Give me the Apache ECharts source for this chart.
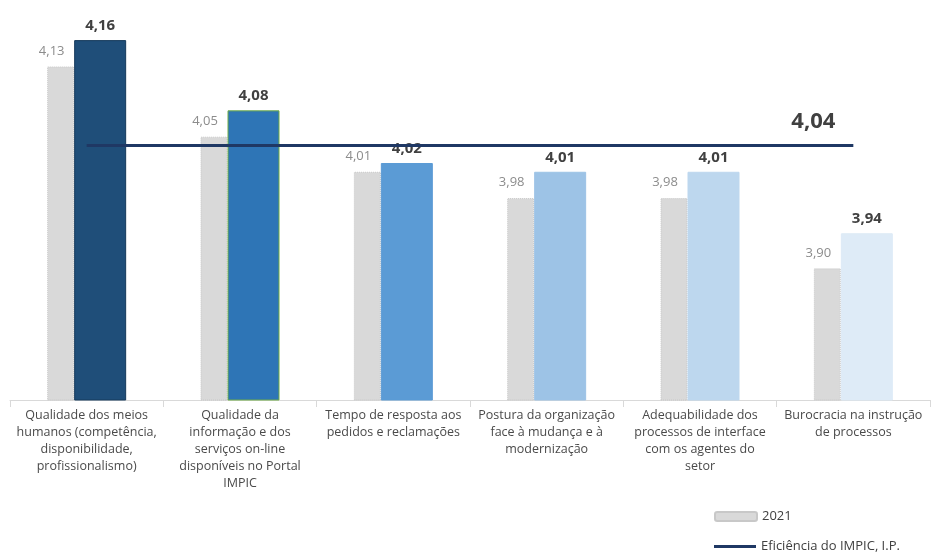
<!DOCTYPE html>
<html>
<head>
<meta charset="utf-8">
<script src="https://cdn.jsdelivr.net/npm/echarts@6/dist/echarts.min.js"></script>
<style>
  html, body { margin: 0; padding: 0; background: #fff; }
  #chart { width: 932px; height: 554px; }
</style>
</head>
<body>
<div id="chart"></div>
<script>
  // categorias (quebras de linha como no original)
  var categories = [
    'Qualidade dos meios\nhumanos (competência,\ndisponibilidade,\nprofissionalismo)',
    'Qualidade da\ninformação e dos\nserviços on-line\ndisponíveis no Portal\nIMPIC',
    'Tempo de resposta aos\npedidos e reclamações',
    'Postura da organização\nface à mudança e à\nmodernização',
    'Adequabilidade dos\nprocessos de interface\ncom os agentes do\nsetor',
    'Burocracia na instrução\nde processos'
  ];
  var values2021 = [4.13, 4.05, 4.01, 3.98, 3.98, 3.90];
  var valuesAtual = [4.16, 4.08, 4.02, 4.01, 4.01, 3.94];
  var eficiencia = [4.04, 4.04, 4.04, 4.04, 4.04, 4.04];

  var blueFill = ['#1f4e79', '#2e75b6', '#5b9bd5', '#9dc3e6', '#bdd7ee', '#deebf7'];
  var blueBorder = ['#163a5c', '#70ad47', '#5b9bd5', '#9dc3e6', '#bdd7ee', '#deebf7'];

  function virgula(v) { return v.toFixed(2).replace('.', ','); }

  var legendText = { color: '#404040', fontSize: 13, fontFamily: 'Open Sans' };

  var chart = echarts.init(document.getElementById('chart'));
  chart.setOption({
    animation: false,
    textStyle: { fontFamily: 'Open Sans' },
    grid: { left: 10, right: 2, top: 5, bottom: 154 },
    legend: [
      {
        data: ['2021'],
        left: 709,
        top: 505,
        itemWidth: 42,
        itemHeight: 9,
        textStyle: legendText
      },
      {
        data: [{ name: 'Eficiência do IMPIC, I.P.', icon: 'rect' }],
        left: 709,
        top: 535,
        itemWidth: 42,
        itemHeight: 3,
        textStyle: legendText
      }
    ],
    xAxis: {
      type: 'category',
      data: categories,
      axisLine: { lineStyle: { color: '#d9d9d9', width: 1 } },
      axisTick: { show: true, length: 7, lineStyle: { color: '#d9d9d9' } },
      axisLabel: {
        interval: 0,
        margin: 7,
        color: '#4a4a4a',
        fontSize: 12.5,
        lineHeight: 17,
        fontFamily: 'Open Sans'
      }
    },
    yAxis: {
      type: 'value',
      min: 3.75,
      max: 4.20,
      show: false,
      splitLine: { show: false }
    },
    series: [
      {
        name: '2021',
        type: 'bar',
        barWidth: 27,
        barGap: '0%',
        data: values2021,
        itemStyle: { color: '#d9d9d9', borderColor: '#c8c8c8', borderWidth: 1, borderType: 'dotted' },
        label: {
          show: true,
          position: 'top',
          distance: 9,
          offset: [-9, 0],
          color: '#8c8c8c',
          fontSize: 13,
          formatter: function (p) { return virgula(p.value); }
        }
      },
      {
        name: 'Atual',
        type: 'bar',
        barWidth: 52,
        barGap: '0%',
        data: valuesAtual.map(function (v, i) {
          return { value: v, itemStyle: { color: blueFill[i], borderColor: blueBorder[i], borderWidth: 1 } };
        }),
        label: {
          show: true,
          position: 'top',
          distance: 7,
          color: '#404040',
          fontSize: 15,
          fontWeight: 'bold',
          formatter: function (p) { return virgula(p.value); }
        }
      },
      {
        name: 'Eficiência do IMPIC, I.P.',
        type: 'line',
        data: eficiencia,
        symbol: 'none',
        z: 5,
        lineStyle: { color: '#1f3864', width: 3 },
        itemStyle: { color: '#1f3864' },
        label: { show: false },
        endLabel: {
          show: true,
          offset: [-70, -24],
          color: '#404040',
          fontSize: 22,
          fontWeight: 'bold',
          formatter: function (p) { return virgula(p.value); }
        }
      }
    ]
  });
</script>
</body>
</html>
